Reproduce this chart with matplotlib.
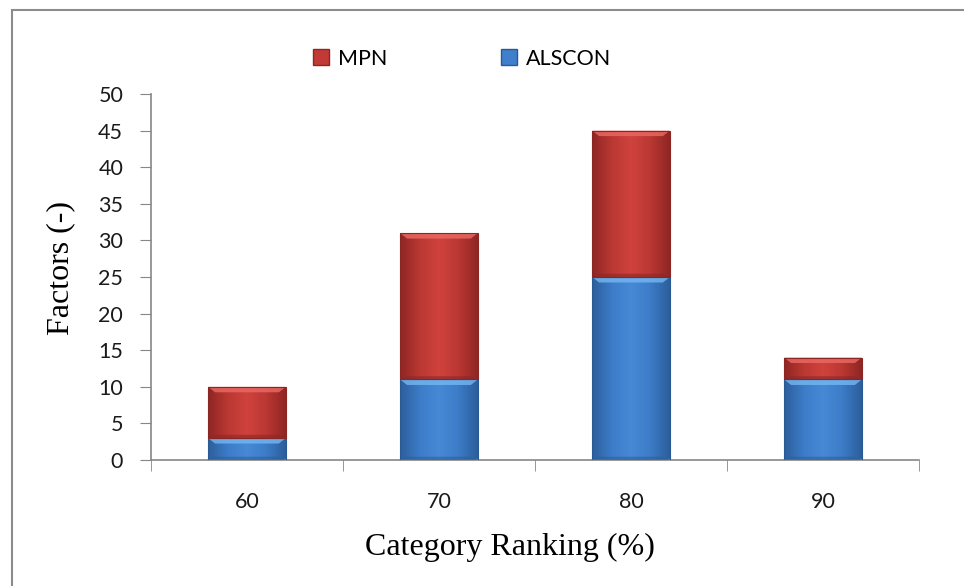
import numpy as np
import matplotlib.pyplot as plt
from matplotlib.patches import Rectangle, Polygon
from matplotlib.colors import LinearSegmentedColormap

categories = ["60", "70", "80", "90"]
alscon = [3, 11, 25, 11]
mpn = [7, 20, 20, 3]
series_names = ["MPN", "ALSCON"]

RED = ["#8f2624", "#bb3833", "#cf423d", "#bb3833", "#8f2624"]
BLUE = ["#2d5f9c", "#3c7cc8", "#4889d6", "#3c7cc8", "#2d5f9c"]
RED_TOP = "#ec6a64"
BLUE_TOP = "#74b8f2"
AXIS_GREY = "#868686"

fig = plt.figure(figsize=(9.64, 5.86), dpi=100)
ax = fig.add_axes([0.1566, 0.215, 0.7967, 0.6246])

x = np.arange(len(categories))
width = 0.405


def shade_bars(bars, stops, top_colour):
    cmap = LinearSegmentedColormap.from_list("shade", stops)
    grad = np.linspace(0, 1, 64).reshape(1, -1)
    for b in bars:
        x0, y0 = b.get_x(), b.get_y()
        w, h = b.get_width(), b.get_height()
        if h <= 0:
            continue
        im = ax.imshow(grad, cmap=cmap, extent=(x0, x0 + w, y0, y0 + h),
                       aspect="auto", origin="lower", zorder=2, interpolation="bicubic")
        im.set_clip_path(b)
        # bevelled top edge
        bev = min(0.75, h * 0.25)
        inset = w * 0.09
        ax.add_patch(Polygon([(x0, y0 + h), (x0 + w, y0 + h),
                              (x0 + w - inset, y0 + h - bev), (x0 + inset, y0 + h - bev)],
                             closed=True, facecolor=top_colour, edgecolor="none",
                             alpha=0.8, zorder=3))
        # darker bottom edge
        ax.add_patch(Polygon([(x0, y0), (x0 + w, y0),
                              (x0 + w - inset, y0 + bev * 0.6), (x0 + inset, y0 + bev * 0.6)],
                             closed=True, facecolor=stops[0], edgecolor="none",
                             alpha=0.6, zorder=3))


bars_a = ax.bar(x, alscon, width, color="none", edgecolor="#2b5a92", linewidth=0.8,
                zorder=4, label="ALSCON")
bars_m = ax.bar(x, mpn, width, bottom=alscon, color="none", edgecolor="#8a2725",
                linewidth=0.8, zorder=4, label="MPN")
shade_bars(bars_a, BLUE, BLUE_TOP)
shade_bars(bars_m, RED, RED_TOP)

ax.set_xlim(-0.5, len(categories) - 0.5)
ax.set_ylim(0, 50)
ax.set_yticks(np.arange(0, 51, 5))
ax.set_xticks(x)
ax.set_xticklabels(categories)
ax.set_xticks(np.arange(-0.5, len(categories), 1), minor=True)
ax.tick_params(axis="x", which="major", length=0, pad=23)
ax.tick_params(axis="x", which="minor", length=8, color=AXIS_GREY, direction="out")
ax.tick_params(axis="y", length=8, color=AXIS_GREY, direction="out", pad=12)

for lbl in ax.get_xticklabels() + ax.get_yticklabels():
    lbl.set_fontfamily("Lato")
    lbl.set_fontsize(15.5)
    lbl.set_color("#1a1a1a")

for side in ("top", "right"):
    ax.spines[side].set_visible(False)
for side in ("left", "bottom"):
    ax.spines[side].set_color(AXIS_GREY)
    ax.spines[side].set_linewidth(1.2)

ax.set_xlabel("Category Ranking (%)", fontfamily="Liberation Serif", fontsize=23, va="center")
ax.set_ylabel("Factors (-)", fontfamily="Liberation Serif", fontsize=23, va="center")
ax.xaxis.set_label_coords(0.4675, -0.24)
ax.yaxis.set_label_coords(-0.118, 0.525)

handles = [Rectangle((0, 0), 1, 1, facecolor="#c23a35", edgecolor="#8a2725"),
           Rectangle((0, 0), 1, 1, facecolor="#3f7fcb", edgecolor="#2b5a92")]
ax.legend(handles, series_names, loc="center", bbox_to_anchor=(0.405, 1.096),
          ncol=2, frameon=False, handlelength=0.75, handleheight=0.75,
          columnspacing=5.3, handletextpad=0.4, borderpad=0,
          prop={"family": "Lato", "size": 15.5})

# chart frame
fig.add_artist(Rectangle((12 / 964, -0.05), 1.1, 1 - 10 / 586 + 0.05,
                         transform=fig.transFigure, fill=False,
                         edgecolor="#8c8c8c", linewidth=1.5))

fig.savefig("out.png", dpi=100)
